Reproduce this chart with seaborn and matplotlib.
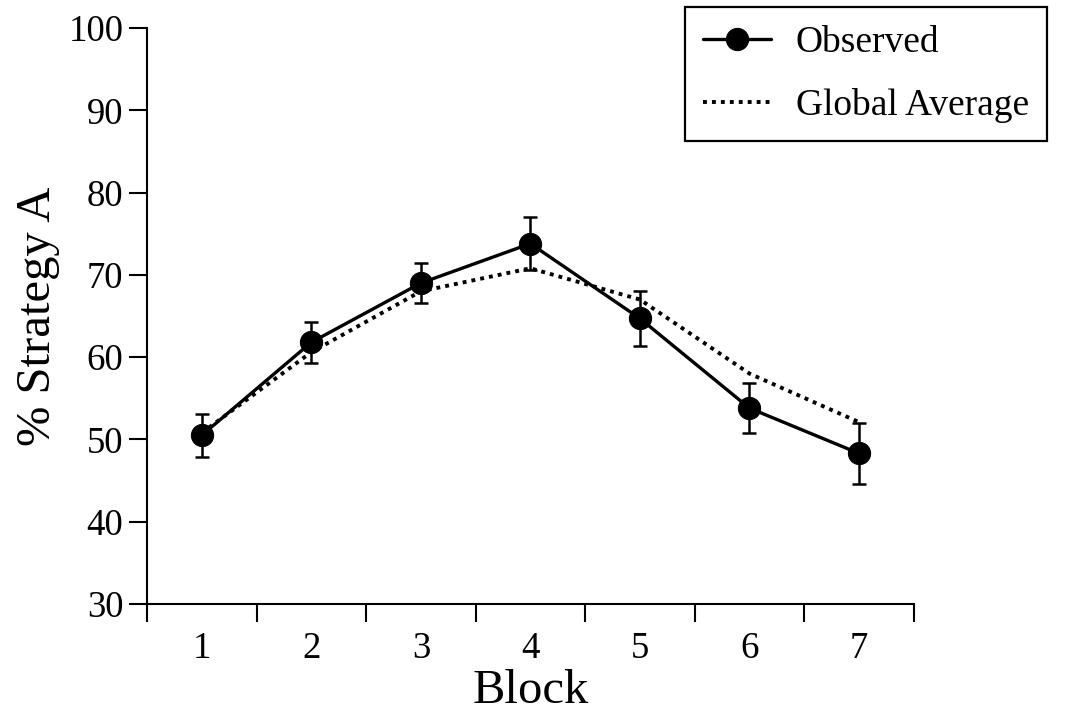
import matplotlib
matplotlib.use("Agg")
import matplotlib.pyplot as plt
import seaborn as sns
import pandas as pd

blocks = [1, 2, 3, 4, 5, 6, 7]
observed = [50.5, 61.8, 69.0, 73.8, 64.7, 53.8, 48.3]
observed_err = [2.6, 2.5, 2.4, 3.2, 3.3, 3.0, 3.7]
global_avg = [50.8, 60.6, 68.0, 70.8, 67.0, 58.0, 52.1]
y_ticks = [30, 40, 50, 60, 70, 80, 90, 100]

sns.set_theme(style="ticks")
plt.rcParams['font.family'] = ['Liberation Serif', 'DejaVu Serif']
plt.rcParams['mathtext.fontset'] = 'stix'

df = pd.DataFrame({"Block": blocks, "Observed": observed, "Global Average": global_avg})

fig = plt.figure(figsize=(10.65, 7.19), dpi=100)
ax = fig.add_axes([0.138, 0.160, 0.720, 0.801])

sns.lineplot(data=df, x="Block", y="Global Average", ax=ax, color="black",
             linewidth=2.8, linestyle=(0, (1.0, 1.3)), label="Global Average")
ax.errorbar(blocks, observed, yerr=observed_err, fmt="none", ecolor="black",
            elinewidth=1.8, capsize=5, capthick=1.8, zorder=3)
sns.lineplot(data=df, x="Block", y="Observed", ax=ax, color="black",
             linewidth=2.4, marker="o", markersize=16, markeredgecolor="black",
             label="Observed", zorder=4)

ax.set_xlim(0.5, 7.5)
ax.set_ylim(30, 100)
ax.set_yticks(y_ticks)
ax.set_xticks([b + 0.5 for b in [0] + blocks])
ax.set_xticklabels([])
ax.set_xticks(blocks, minor=True)
ax.set_xticklabels([str(b) for b in blocks], minor=True)
ax.tick_params(axis="x", which="minor", length=0, labelsize=26.5, pad=20)
ax.tick_params(axis="x", which="major", length=13, width=1.5, direction="out", color="black")
ax.tick_params(axis="y", length=13, width=1.5, direction="out", labelsize=26.5, pad=4, color="black")
for lab in ax.get_yticklabels() + ax.get_xticklabels(minor=True):
    lab.set_color("black")

sns.despine(ax=ax)
for s in ["left", "bottom"]:
    ax.spines[s].set_linewidth(1.5)
    ax.spines[s].set_color("black")

ax.set_xlabel("Block", fontsize=35, color="black", labelpad=2)
ax.set_ylabel("% Strategy A", fontsize=35, color="black", labelpad=6)

handles, labels = ax.get_legend_handles_labels()
order = [labels.index("Observed"), labels.index("Global Average")]
leg = ax.legend([handles[i] for i in order], [labels[i] for i in order],
                loc="upper right", bbox_to_anchor=(0.983, 0.990),
                bbox_transform=fig.transFigure, fontsize=27, frameon=True,
                fancybox=False, edgecolor="black", framealpha=1,
                handlelength=1.8, handletextpad=0.67, labelspacing=0.76,
                borderpad=0.48, borderaxespad=0)
leg.get_frame().set_linewidth(1.6)
for t in leg.get_texts():
    t.set_color("black")

fig.savefig("out.png", dpi=100, facecolor="white")
